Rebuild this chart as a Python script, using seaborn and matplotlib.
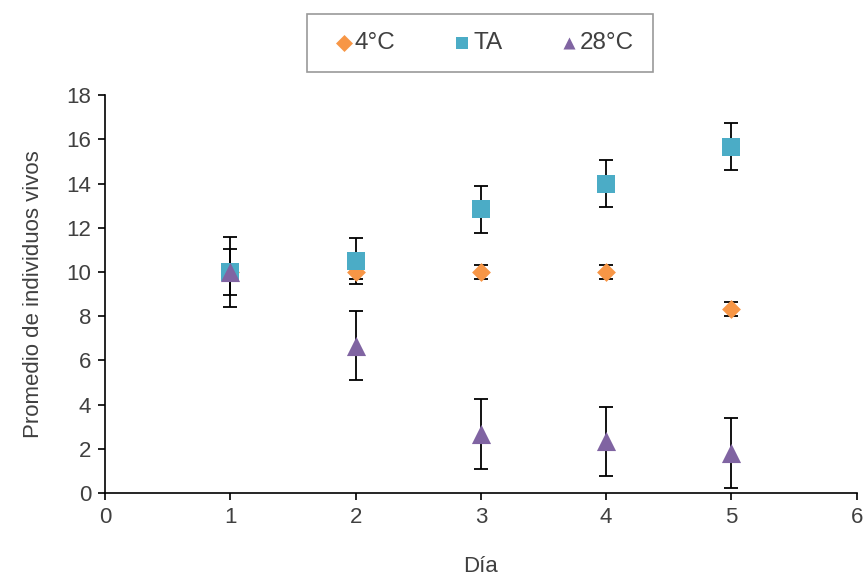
import numpy as np
import pandas as pd
import matplotlib
matplotlib.use('Agg')
import matplotlib.pyplot as plt
import seaborn as sns

# Datos
dias = [1, 2, 3, 4, 5]
series = ['4°C', 'TA', '28°C']
vals_4c = [10.0, 10.0, 10.0, 10.0, 8.33]
err_4c = [0.33, 0.33, 0.33, 0.33, 0.33]
vals_ta = [10.0, 10.5, 12.83, 14.0, 15.67]
err_ta = [1.05, 1.05, 1.07, 1.07, 1.07]
vals_28 = [10.0, 6.67, 2.67, 2.33, 1.8]
err_28 = [1.58, 1.57, 1.58, 1.58, 1.58]

colores = {'4°C': '#F79646', 'TA': '#4BACC6', '28°C': '#8064A2'}
marcadores = {'4°C': 'D', 'TA': 's', '28°C': '^'}
tamanos = {'4°C': 92, 'TA': 170, '28°C': 190}

df = pd.DataFrame({
    'Día': dias * 3,
    'valor': vals_4c + vals_ta + vals_28,
    'err': err_4c + err_ta + err_28,
    'serie': [s for s in series for _ in dias],
})

sns.set_style('white')
plt.rcParams['font.family'] = ['Liberation Sans', 'DejaVu Sans']

fig, ax = plt.subplots(figsize=(8.68, 5.80), dpi=100)
fig.subplots_adjust(left=0.121, right=0.987, top=0.836, bottom=0.15)

for s in series:
    sub = df[df.serie == s]
    ax.errorbar(sub['Día'], sub['valor'], yerr=sub['err'], fmt='none',
                ecolor='black', elinewidth=1.3, capsize=5, capthick=1.3, zorder=2)
    sns.scatterplot(x=sub['Día'], y=sub['valor'], color=colores[s],
                    marker=marcadores[s], s=tamanos[s], linewidth=0,
                    ax=ax, zorder=3, label=s)

ax.set_xlim(0, 6)
ax.set_ylim(0, 18)
ax.set_xticks(range(0, 7))
ax.set_yticks(range(0, 19, 2))
ax.set_xlabel('Día', fontsize=16, color='#404040', labelpad=20)
ax.set_ylabel('Promedio de individuos vivos', fontsize=16, color='#404040', labelpad=16)
ax.tick_params(axis='both', labelsize=16, labelcolor='#404040', direction='out',
               length=5, width=1.2, color='black', left=True, bottom=True, pad=5)
sns.despine(ax=ax)
for sp in ['left', 'bottom']:
    ax.spines[sp].set_color('black')
    ax.spines[sp].set_linewidth(1.2)

handles, labels = ax.get_legend_handles_labels()
ax.get_legend().remove()
leg = fig.legend(handles, labels, loc='center', bbox_to_anchor=(0.553, 0.926),
                 ncol=3, frameon=True, fontsize=17.5, handletextpad=-0.3,
                 columnspacing=2.0, borderpad=0.75, fancybox=False,
                 handlelength=1.5)
leg.get_frame().set_edgecolor('#808080')
leg.get_frame().set_linewidth(1.2)
for h in leg.legend_handles:
    h.set_sizes([75])
for t in leg.get_texts():
    t.set_color('#404040')

fig.savefig('out.png', dpi=100)
